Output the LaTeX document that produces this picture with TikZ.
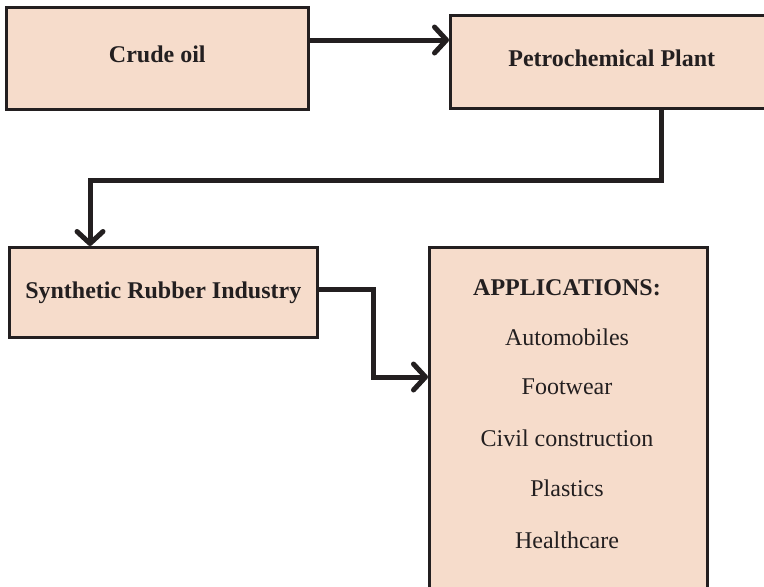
\documentclass[tikz,border=0pt]{standalone}
\usepackage{fontspec}
\setmainfont{Liberation Serif}
\usetikzlibrary{arrows.meta}
\definecolor{boxfill}{HTML}{F6DCCB}
\definecolor{ink}{HTML}{231F20}
\begin{document}
\begin{tikzpicture}[x=1pt,y=-1pt,
  stagebox/.style={draw=ink,fill=boxfill,line width=2.6pt,inner sep=0pt,
    anchor=north west,font=\fontsize{24}{28}\selectfont\bfseries,text=ink},
  raised/.style={text height=17pt,text depth=8pt},
  item/.style={font=\fontsize{24}{28}\selectfont,text=ink,inner sep=0pt},
  flow/.style={draw=ink,line width=5pt,
    -{Straight Barb[length=12pt,width=26pt,line width=5pt,round]}}]
\clip (0,0) rectangle (764,587);
\fill[white] (0,0) rectangle (764,587);

% process stages
\node[stagebox,raised,minimum width=302pt,minimum height=102pt] (crude) at (5,6) {Crude oil};
\node[stagebox,raised,minimum width=323pt,minimum height=93pt] (petro) at (449,14) {Petrochemical Plant};
\node[stagebox,minimum width=308pt,minimum height=90pt] (synth) at (8,246) {Synthetic Rubber Industry};
\node[stagebox,minimum width=278pt,minimum height=360pt] (apps) at (428,246) {};

% list of applications
\node[item,font=\fontsize{24}{28}\selectfont\bfseries] (hd) at (567,288) {APPLICATIONS:};
\node[item] (a1) at (567,337) {Automobiles};
\node[item] (a2) at (567,387) {Footwear};
\node[item] (a3) at (567,438) {Civil construction};
\node[item] (a4) at (567,488) {Plastics};
\node[item] (a5) at (567,540) {Healthcare};

% bends of the connectors
\coordinate (c1) at (0,40);
\coordinate (b1) at (661,180);
\coordinate (b2) at (90,180);
\coordinate (c2) at (0,289);
\coordinate (b3) at (373,289);
\coordinate (b4) at (373,377);

% connectors
\draw[flow] (crude.east |- c1) -- (petro.west |- c1);
\draw[flow] (petro.south -| b1) -- (b1) -- (b2) -- (synth.north -| b2);
\draw[flow] (synth.east |- c2) -- (b3) -- (b4) -- (apps.west |- b4);
\end{tikzpicture}
\end{document}
